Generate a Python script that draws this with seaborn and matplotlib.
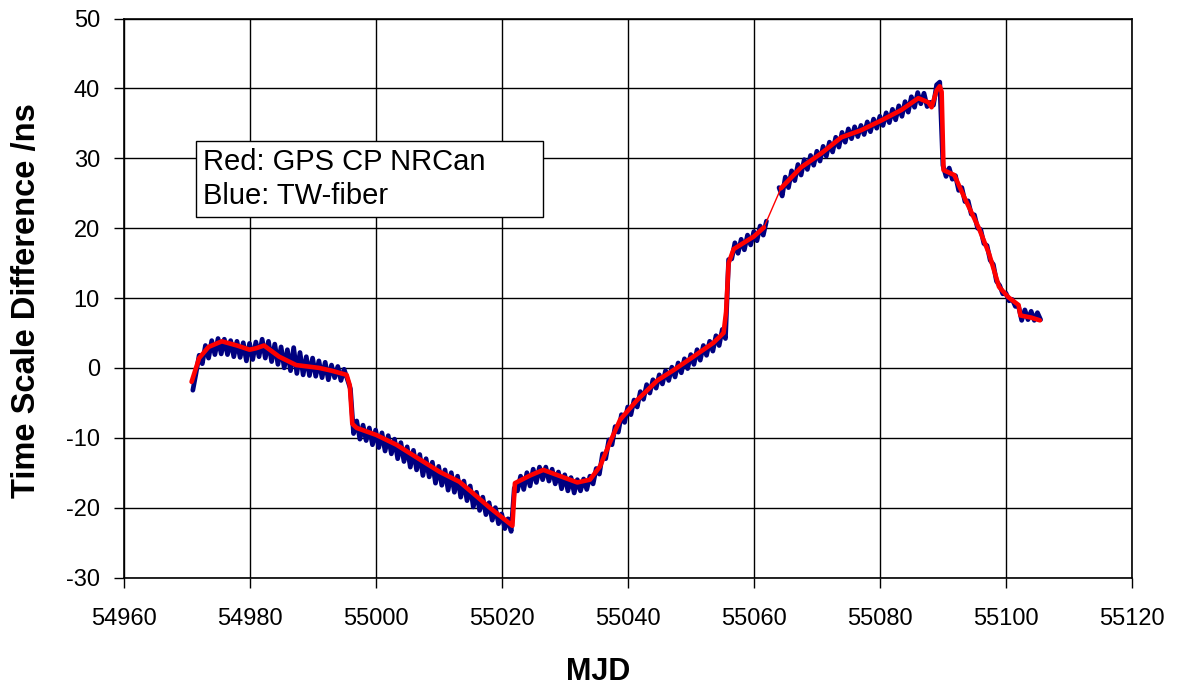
import numpy as np
import pandas as pd
import matplotlib
matplotlib.use("Agg")
import matplotlib.pyplot as plt
from matplotlib.patches import Rectangle
import seaborn as sns

sns.set_theme(style="white")
plt.rcParams["font.family"] = ["Liberation Sans", "DejaVu Sans"]
plt.rcParams["axes.unicode_minus"] = False
plt.rcParams["text.color"] = "black"

# Red: GPS CP NRCan (smooth), read at key points
red_mjd = [54970.8, 54972.0, 54973.5, 54975.6, 54978.0, 54980.0, 54981.0, 54982.3,
           54983.5, 54984.7, 54987.4, 54991.0, 54993.0, 54995.4, 54995.9, 54996.3,
           54997.0, 55000.1, 55003.3, 55007.0, 55010.2, 55013.3, 55015.4, 55018.1,
           55021.3, 55021.7, 55022.1, 55024.5, 55026.6, 55029.3, 55032.0, 55034.0,
           55035.6, 55037.2, 55038.8, 55041.5, 55044.7, 55047.3, 55050.4, 55053.6,
           55055.2, 55055.6, 55056.0, 55056.8, 55060.0, 55061.6,
           55064.3, 55067.5, 55070.7, 55073.9, 55077.0, 55080.2, 55083.4, 55086.1,
           55087.7, 55088.2, 55089.0, 55089.5, 55089.8, 55090.1, 55091.8, 55093.4,
           55095.7, 55097.3, 55098.9, 55100.4, 55102.0, 55102.3, 55104.0, 55105.4]
red_ns = [-2.0, 1.4, 3.0, 3.8, 3.2, 2.6, 2.8, 3.2,
          2.4, 1.6, 0.4, 0.0, -0.4, -1.0, -2.5, -8.0,
          -8.6, -9.6, -11.0, -13.1, -14.9, -16.3, -17.9, -20.0,
          -22.3, -22.6, -16.5, -15.4, -14.6, -15.5, -16.4, -16.0,
          -14.1, -10.6, -7.4, -4.6, -1.8, -0.3, 1.6, 3.6,
          5.0, 8.0, 15.0, 17.0, 18.8, 20.1,
          25.7, 28.7, 30.7, 33.0, 34.0, 35.4, 36.9, 38.6,
          38.0, 37.3, 39.7, 40.3, 39.5, 28.3, 27.6, 24.4,
          20.0, 16.4, 11.6, 10.1, 9.0, 7.5, 7.2, 6.8]
red_gap_after = 55061.6  # thin connecting segment across the data gap

# Blue: TW-fiber, half-day samples
blue_start, blue_step = 54971.0, 0.5
blue_ns = [
    -3.2, -0.8, 1.8, 0.6, 3.2, 1.4, 3.9, 1.9, 4.2, 2.0,
    4.1, 1.9, 3.9, 1.6, 3.8, 1.5, 3.6, 1.0, 3.5, 1.2,
    3.7, 1.6, 4.1, 1.4, 3.8, 0.9, 3.4, 0.5, 3.0, 0.0,
    2.6, -0.4, 2.9, -0.8, 2.2, -1.0, 1.6, -1.1, 1.4, -1.2,
    1.0, -1.4, 0.8, -1.7, 0.4, -1.4, 0.2, -1.8, -0.2, -1.6,
    -3.0, -9.4, -7.6, -10.2, -8.2, -10.4, -8.6, -11.0, -8.9, -11.4,
    -9.3, -11.9, -9.7, -12.3, -10.2, -13.0, -10.7, -13.4, -11.3, -14.2,
    -11.8, -14.6, -12.4, -15.4, -13.0, -15.6, -13.5, -16.5, -14.1, -16.8,
    -14.6, -17.5, -15.0, -17.8, -15.5, -18.5, -16.2, -19.0, -16.9, -19.9,
    -17.8, -20.4, -18.5, -21.0, -19.3, -21.8, -20.0, -22.3, -20.9, -23.0,
    -21.6, -23.4, -17.2, -17.6, -15.5, -17.4, -15.0, -16.9, -14.5, -16.4,
    -14.2, -16.0, -14.2, -16.2, -14.5, -16.6, -14.9, -17.3, -15.3, -17.6,
    -15.7, -17.9, -16.0, -17.6, -15.9, -17.4, -15.5, -16.6, -14.4, -15.2,
    -12.3, -13.0, -10.3, -11.0, -8.4, -9.2, -6.7, -7.8, -5.6, -6.7,
    -4.6, -5.6, -3.4, -4.5, -2.4, -3.6, -1.7, -2.9, -1.0, -2.3,
    -0.4, -1.8, 0.1, -1.3, 0.7, -0.7, 1.3, -0.1, 1.9, 0.5,
    2.6, 1.1, 3.2, 1.8, 3.8, 2.4, 4.6, 3.2, 5.5, 4.2,
    15.5, 15.6, 17.9, 16.4, 18.4, 16.9, 19.0, 17.6, 19.5, 18.2,
    20.3, 19.0, 21.0, np.nan, np.nan, np.nan, 25.8, 24.6, 27.3, 25.8,
    28.2, 26.8, 29.1, 27.6, 29.8, 28.4, 30.4, 29.0, 31.0, 29.6,
    31.7, 30.3, 32.3, 30.9, 33.0, 31.6, 33.7, 32.3, 34.2, 32.8,
    34.5, 33.1, 34.7, 33.4, 35.2, 33.8, 35.6, 34.3, 36.0, 34.7,
    36.5, 35.1, 37.0, 35.5, 37.5, 36.0, 38.1, 36.6, 38.8, 37.3,
    39.4, 37.8, 39.3, 37.4, 38.0, 37.6, 40.5, 40.9, 29.0, 27.4,
    28.6, 27.0, 27.5, 25.4, 25.8, 23.8, 23.9, 22.0, 21.9, 20.0,
    19.8, 17.8, 17.5, 15.4, 14.8, 12.4, 11.8, 10.6, 10.7, 9.6,
    9.8, 8.8, 8.8, 6.8, 8.3, 6.9, 8.1, 6.8, 7.9, 6.9,
]

x_ticks = [54960, 54980, 55000, 55020, 55040, 55060, 55080, 55100, 55120]
y_ticks = [-30, -20, -10, 0, 10, 20, 30, 40, 50]

blue = pd.DataFrame({
    "mjd": blue_start + blue_step * np.arange(len(blue_ns)),
    "ns": blue_ns,
})
blue["seg"] = blue["ns"].isna().cumsum()
blue = blue.dropna()

red = pd.DataFrame({"mjd": red_mjd, "ns": red_ns})
red["seg"] = (red["mjd"] > red_gap_after).astype(int)
bridge = red.iloc[red.index[red["mjd"] <= red_gap_after][-1]:][:2]

fig = plt.figure(figsize=(11.81, 6.90), dpi=100)
ax = fig.add_axes([123.5 / 1181, 1 - 577.5 / 690, (1132 - 123.5) / 1181, (577.5 - 18.5) / 690])

sns.lineplot(data=blue, x="mjd", y="ns", units="seg", estimator=None,
             color="#000080", linewidth=3.4, ax=ax, sort=False)
sns.lineplot(data=bridge, x="mjd", y="ns", color="#FF0000", linewidth=1.0, ax=ax)
sns.lineplot(data=red, x="mjd", y="ns", units="seg", estimator=None,
             color="#FF0000", linewidth=3.3, ax=ax, sort=False)

ax.set_xlim(x_ticks[0], x_ticks[-1])
ax.set_ylim(y_ticks[0], y_ticks[-1])
ax.set_xticks(x_ticks)
ax.set_yticks(y_ticks)
ax.grid(True, color="black", linewidth=1.0)
ax.set_axisbelow(True)
for s in ax.spines.values():
    s.set_color("black")
    s.set_linewidth(1.2)
ax.tick_params(axis="both", direction="out", length=7, width=1.0, color="black",
               labelsize=17, labelcolor="black", bottom=True, left=True)
ax.tick_params(axis="x", pad=15)
ax.tick_params(axis="y", pad=10)
ax.set_xlabel("MJD", fontsize=22, fontweight="bold", color="black")
ax.set_ylabel("Time Scale Difference /ns", fontsize=23.5, fontweight="bold", color="black")
ax.xaxis.set_label_coords(0.4705, -0.142)
ax.yaxis.set_label_coords(-0.081, 0.495)

# legend-like note box
fig.patches.append(Rectangle((196 / 1181, 1 - 217 / 690), 347 / 1181, 76 / 690,
                             transform=fig.transFigure, facecolor="white",
                             edgecolor="black", linewidth=1.0, zorder=5))
fig.text(203 / 1181, 1 - 179 / 690, "Red: GPS CP NRCan\nBlue: TW-fiber",
         fontsize=21, va="center", ha="left", linespacing=1.3, zorder=6, color="black")

fig.savefig("out.png", dpi=100)
